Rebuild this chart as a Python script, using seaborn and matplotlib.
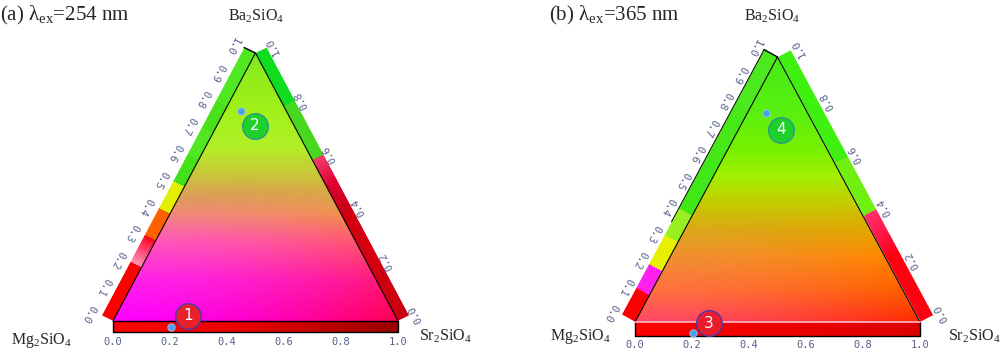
import numpy as np
import matplotlib
matplotlib.use('Agg')
import matplotlib.pyplot as plt
from matplotlib.patches import Polygon
from matplotlib.transforms import Affine2D
from matplotlib.colors import to_rgb
import seaborn as sns

sns.set_theme(style="white")
plt.rcParams['font.family'] = ['Liberation Serif', 'DejaVu Serif']
plt.rcParams['mathtext.fontset'] = 'custom'
plt.rcParams['mathtext.rm'] = 'Liberation Serif'
plt.rcParams['mathtext.it'] = 'Liberation Serif:italic'

# ---- labels and ticks ----
panel_titles = ['(a) λ$_{\\rm ex}$=254 nm', '(b) λ$_{\\rm ex}$=365 nm']
name_mg = 'Mg$_2$SiO$_4$'
name_sr = 'Sr$_2$SiO$_4$'
name_ba = 'Ba$_2$SiO$_4$'
bottom_ticks = [0.0, 0.2, 0.4, 0.6, 0.8, 1.0]
left_ticks = [0.0, 0.1, 0.2, 0.3, 0.4, 0.5, 0.6, 0.7, 0.8, 0.9, 1.0]
right_ticks = [0.0, 0.2, 0.4, 0.6, 0.8, 1.0]

# ---- sample points (plot coordinates of the triangle, apex at (0.5, 1)) ----
a_nums = ['1', '2']
a_circle_x = [0.263, 0.498]
a_circle_y = [0.019, 0.728]
a_circle_fill = ['#e8202c', '#1fd02a']
a_circle_edge = ['#4a3aa8', '#2a9a8a']
a_dot_x = [0.204, 0.449]
a_dot_y = [-0.022, 0.784]

b_nums = ['3', '4']
b_circle_x = [0.260, 0.512]
b_circle_y = [-0.004, 0.725]
b_circle_fill = ['#e81c2c', '#1fd02a']
b_circle_edge = ['#4a3aa8', '#2a9a8a']
b_dot_x = [0.204, 0.460]
b_dot_y = [-0.042, 0.789]

# ---- interior colour profiles: Ba fraction -> colour, along left and right edges ----
a_prof_t = [0, 0.15, 0.3, 0.4, 0.47, 0.55, 0.65, 0.8, 1.0]
a_prof_left = ['#ff00ff', '#ff20e8', '#ff58b8', '#f08878', '#dca058', '#c8c838',
               '#b0f028', '#a0f018', '#80ea20']
a_prof_right = ['#ff0050', '#ff1880', '#ff5870', '#f09050', '#dca448', '#c8c838',
                '#b0f028', '#a0f018', '#80ea20']

b_prof_t = [0, 0.12, 0.25, 0.35, 0.45, 0.55, 0.65, 0.8, 1.0]
b_prof_left = ['#ff4868', '#ff7040', '#f09030', '#dca818', '#c4cc00', '#a2f000',
               '#78f000', '#58f010', '#48ea18']
b_prof_right = ['#ff2800', '#ff6000', '#ff8800', '#e0a800', '#c4cc00', '#a2f000',
                '#78f000', '#58f010', '#48ea18']

# ---- side bar segments: (t0, t1, colour at t0, colour at t1) ----
a_left_bar = [(0.0, 0.2, '#ff0000', '#ff0000'), (0.2, 0.25, '#ff98b0', '#ff4878'),
              (0.25, 0.3, '#ff4878', '#ff0020'), (0.3, 0.4, '#ff6000', '#ff6000'),
              (0.4, 0.5, '#e4f000', '#e4f000'), (0.5, 0.6, '#44e018', '#44e018'),
              (0.6, 0.7, '#50e820', '#50e820'), (0.7, 0.8, '#48e018', '#48e018'),
              (0.8, 1.0, '#50e820', '#50e820')]
a_right_bar = [(0.0, 0.2, '#c80010', '#d00010'), (0.2, 0.4, '#d80010', '#d00010'),
               (0.4, 0.5, '#c80018', '#e00030'), (0.5, 0.6, '#e00030', '#f04070'),
               (0.6, 0.8, '#48d820', '#48d820'), (0.8, 1.0, '#10dc20', '#10dc20')]
a_bottom_bar = [(0.0, 0.4, '#ff0000', '#f00000'), (0.4, 1.0, '#f00000', '#9a0000')]

b_left_bar = [(0.0, 0.1, '#ff0000', '#ff0000'), (0.1, 0.19, '#ff20f0', '#ff20f0'),
              (0.19, 0.3, '#e8f000', '#e8f000'), (0.3, 0.4, '#98f020', '#98f020'),
              (0.4, 0.6, '#40e818', '#40e818'), (0.6, 0.8, '#48e818', '#48e818'),
              (0.8, 1.0, '#4ce820', '#4ce820')]
b_right_bar = [(0.0, 0.25, '#ff0010', '#ff0010'), (0.25, 0.4, '#ff0020', '#ff3070'),
               (0.4, 0.6, '#70f010', '#70f010'), (0.6, 1.0, '#40f010', '#40f010')]
b_bottom_bar = [(0.0, 1.0, '#ff0000', '#dd0000')]


def interp_colors(t, ts, cols):
    rgb = np.array([to_rgb(c) for c in cols])
    return np.stack([np.interp(t, ts, rgb[:, k]) for k in range(3)], axis=-1)


def draw_interior(ax, ts, left, right):
    n = 500
    X, Y = np.meshgrid(np.linspace(0, 1, n), np.linspace(0, 1, n))
    S = np.clip((X - 0.5 * Y) / np.maximum(1 - Y, 1e-6), 0, 1) ** 1.6
    L = interp_colors(Y, ts, left)
    R = interp_colors(Y, ts, right)
    img = (1 - S)[..., None] * L + S[..., None] * R
    im = ax.imshow(img, extent=(0, 1, 0, 1), origin='lower', aspect='auto',
                   interpolation='bilinear', zorder=1)
    tri = Polygon([(0, 0), (1, 0), (0.5, 1)], closed=True, transform=ax.transData,
                  facecolor='none', edgecolor='none')
    ax.add_patch(tri)
    im.set_clip_path(tri)


def draw_bar(ax, p0, p1, off, segments):
    # bar = parallelogram p0 -> p1 pushed outward by off, filled along t
    n = 600
    t = (np.arange(n) + 0.5) / n
    cols = np.ones((n, 4))
    for t0, t1, c0, c1 in segments:
        m = (t >= t0) & (t <= t1)
        f = (t[m] - t0) / (t1 - t0)
        cols[m, :3] = (1 - f)[:, None] * np.array(to_rgb(c0)) + f[:, None] * np.array(to_rgb(c1))
    p0, p1, off = np.array(p0, float), np.array(p1, float), np.array(off, float)
    d = p1 - p0
    M = Affine2D(np.array([[d[0], off[0], p0[0]],
                           [d[1], off[1], p0[1]],
                           [0, 0, 1]]))
    im = ax.imshow(np.repeat(cols[None, :, :], 4, axis=0), extent=(0, 1, 0, 1),
                   origin='lower', aspect='auto', interpolation='nearest',
                   transform=M + ax.transData, zorder=1)
    clip = Polygon([p0, p1, p1 + off, p0 + off], closed=True, transform=ax.transData,
                   facecolor='none', edgecolor='none')
    ax.add_patch(clip)
    im.set_clip_path(clip)


def draw_panel(ax, prof, bars, offs, pts, lbl_offs, xlim, ylim, pink_base):
    draw_interior(ax, *prof)
    off_l, off_r, off_b = offs
    draw_bar(ax, (0, 0), (0.5, 1), off_l, bars[0])
    draw_bar(ax, (1, 0), (0.5, 1), off_r, bars[1])
    draw_bar(ax, (0, 0), (1, 0), off_b, bars[2])

    # outlines
    ax.plot([0, 0.5, 1], [0, 1, 0], color='black', lw=0.8, zorder=3)
    ax.plot([0, 0, 1, 1], [0, off_b[1], off_b[1], 0], color='black', lw=1.0, zorder=3)
    ax.plot([0.5 + off_l[0], 0.5], [1 + off_l[1], 1], color='black', lw=1.0, zorder=3)
    if pink_base:
        ax.plot([0, 1], [0, 0], color='#ffb8cc', lw=1.2, zorder=3)
        ax.plot([0.5 * 0.35 + off_l[0], 0.5 + off_l[0]], [0.35 + off_l[1], 1 + off_l[1]],
                color='black', lw=0.7, zorder=3)
    else:
        ax.plot([0, 1], [0, 0], color='black', lw=1.0, zorder=3)

    # tick labels
    tk = dict(family='DejaVu Sans Mono', fontsize=7.5, color='#56608a',
              ha='center', va='center')
    lo, ro, bo = lbl_offs
    for v in bottom_ticks:
        ax.text(v, bo, f'{v:.1f}', **tk)
    for v in left_ticks:
        ax.text(0.5 * v + lo[0], v + lo[1], f'{v:.1f}', rotation=242, **tk)
    for v in right_ticks:
        ax.text(1 - 0.5 * v + ro[0], v + ro[1], f'{v:.1f}', rotation=118, **tk)

    # sample points
    nums, cx, cy, fill, edge, dx, dy = pts
    sns.scatterplot(x=dx, y=dy, s=28, color='#4aa0ea', edgecolor='#9cc8f0',
                    linewidth=0.6, ax=ax, zorder=5, legend=False)
    for i in range(len(nums)):
        sns.scatterplot(x=[cx[i]], y=[cy[i]], s=340, color=fill[i], edgecolor=edge[i],
                        linewidth=1.0, ax=ax, zorder=6, legend=False)
        ax.text(cx[i], cy[i], nums[i], family='DejaVu Sans', fontsize=11, color='white',
                ha='center', va='center', zorder=7)

    ax.set_xlim(*xlim)
    ax.set_ylim(*ylim)
    ax.set_axis_off()


fig = plt.figure(figsize=(10, 3.53), dpi=100)
ax_a = fig.add_axes([0, 0, 0.5, 1])
ax_b = fig.add_axes([0.5, 0, 0.5, 1])

draw_panel(ax_a, (a_prof_t, a_prof_left, a_prof_right),
           (a_left_bar, a_right_bar, a_bottom_bar),
           ((-0.040, 0.0205), (0.040, 0.0205), (0, -0.041)),
           (a_nums, a_circle_x, a_circle_y, a_circle_fill, a_circle_edge, a_dot_x, a_dot_y),
           ((-0.084, 0.028), (0.060, 0.024), -0.078),
           (-0.3965, 1.358), (-0.1194, 1.1978), False)

draw_panel(ax_b, (b_prof_t, b_prof_left, b_prof_right),
           (b_left_bar, b_right_bar, b_bottom_bar),
           ((-0.047, 0.028), (0.046, 0.026), (0, -0.053)),
           (b_nums, b_circle_x, b_circle_y, b_circle_fill, b_circle_edge, b_dot_x, b_dot_y),
           ((-0.084, 0.034), (0.074, 0.034), -0.085),
           (-0.4737, 1.2807), (-0.117, 1.2151), True)

# titles and corner names (figure pixel positions)
W, H = 1000, 353
fig.text(0 / W, 1 - 15 / H, panel_titles[0], fontsize=15, ha='left', va='center')
fig.text(549 / W, 1 - 15 / H, panel_titles[1], fontsize=15, ha='left', va='center')
for cx, cy, name in [(256, 16, name_ba), (41, 340, name_mg), (445, 336, name_sr),
                     (772, 16, name_ba), (580, 337, name_mg), (974, 336, name_sr)]:
    fig.text(cx / W, 1 - cy / H, name, fontsize=11.5, ha='center', va='center')

fig.savefig('out.png', dpi=100)
